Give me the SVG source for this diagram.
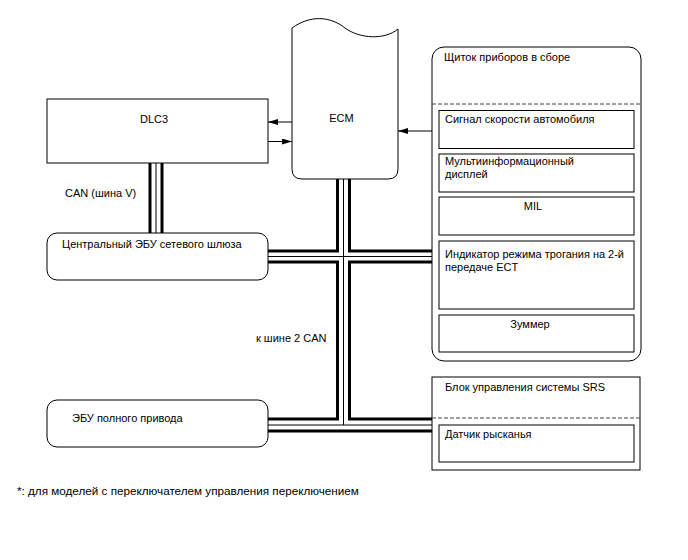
<svg xmlns="http://www.w3.org/2000/svg" width="688" height="560" viewBox="0 0 688 560">
<style>
  text { font-family: "Liberation Sans", Arial, sans-serif; font-size: 11px; fill: #000; }
  .note { font-size: 11.7px; }
  .box { fill: #fff; stroke: #000; stroke-width: 1; }
  .thick { fill: none; stroke: #000; stroke-width: 3; }
  .thin { fill: none; stroke: #000; stroke-width: 1; }
  .dash { fill: none; stroke: #444; stroke-width: 1; stroke-dasharray: 4 2; }
  .arrow { fill: none; stroke: #000; stroke-width: 1; marker-end: url(#ah); }
</style>
<defs>
  <marker id="ah" viewBox="0 0 10 6" refX="10" refY="3" markerWidth="10" markerHeight="6" markerUnits="userSpaceOnUse" orient="auto">
    <path d="M0,0 L10,3 L0,6 Z" fill="#000"/>
  </marker>
</defs>
<rect width="688" height="560" fill="#fff"/>

<g id="connectors">
  <!-- DLC3 to gateway: CAN V bus -->
  <line class="thick" x1="150" y1="163" x2="150" y2="233"/>
  <line class="thin" x1="156" y1="163" x2="156" y2="233"/>
  <line class="thick" x1="162" y1="163" x2="162" y2="233"/>
  <!-- main CAN bus -->
  <polyline class="thick" points="337.5,179 337.5,251 268,251"/>
  <polyline class="thick" points="349.5,179 349.5,251 432,251"/>
  <line class="thin" x1="343.5" y1="179" x2="343.5" y2="425"/>
  <line class="thin" x1="268" y1="256.5" x2="432" y2="256.5"/>
  <polyline class="thick" points="268,262 337.5,262 337.5,419 268,419"/>
  <polyline class="thick" points="432,262 349.5,262 349.5,419 432,419"/>
  <line class="thin" x1="268" y1="425" x2="432" y2="425"/>
  <line class="thick" x1="268" y1="431" x2="432" y2="431"/>
  <!-- arrows -->
  <line class="arrow" x1="292" y1="122" x2="268" y2="122"/>
  <line class="arrow" x1="268" y1="141.5" x2="292" y2="141.5"/>
  <line class="arrow" x1="439" y1="131" x2="398" y2="131"/>
</g>

<g id="dlc3">
  <rect class="box" x="47" y="99" width="221" height="64"/>
  <text x="154" y="123" text-anchor="middle">DLC3</text>
</g>

<g id="ecm">
  <path class="box" d="M292,28 C310,15 330,16 345,28 C360,39 385,40 398,29 L398,169 Q398,179 388,179 L302,179 Q292,179 292,169 Z"/>
  <text x="341.5" y="122" text-anchor="middle">ECM</text>
</g>

<g id="gateway">
  <rect class="box" x="47" y="233" width="221" height="47" rx="10" ry="10"/>
  <text x="62" y="248">Центральный ЭБУ сетевого шлюза</text>
</g>

<g id="ecu-4wd">
  <rect class="box" x="47" y="400" width="221" height="47" rx="10" ry="10"/>
  <text x="72" y="422">ЭБУ полного привода</text>
</g>

<g id="meter">
  <rect class="box" x="432" y="47" width="209" height="314" rx="12" ry="12"/>
  <text x="444" y="61">Щиток приборов в сборе</text>
  <line class="dash" x1="432" y1="104" x2="641" y2="104"/>
  <rect class="box" x="439" y="110.5" width="195" height="38"/>
  <text x="445" y="123">Сигнал скорости автомобиля</text>
  <rect class="box" x="439" y="154" width="195" height="38"/>
  <text x="445" y="165">Мультиинформационный</text>
  <text x="445" y="178">дисплей</text>
  <rect class="box" x="439" y="197" width="195" height="38"/>
  <text x="533" y="210" text-anchor="middle">MIL</text>
  <rect class="box" x="439" y="241" width="195" height="68"/>
  <text x="445" y="258" textLength="179" lengthAdjust="spacingAndGlyphs">Индикатор режима трогания на 2-й</text>
  <text x="445" y="271">передаче ECT</text>
  <rect class="box" x="439" y="315" width="195" height="37"/>
  <text x="530" y="328" text-anchor="middle">Зуммер</text>
</g>

<g id="srs">
  <rect class="box" x="432" y="377" width="208" height="93"/>
  <text x="445" y="391">Блок управления системы SRS</text>
  <line class="dash" x1="432" y1="418" x2="640" y2="418"/>
  <rect class="box" x="439" y="425" width="195" height="37"/>
  <text x="445" y="438">Датчик рысканья</text>
</g>

<g id="labels">
  <text x="65" y="197">CAN (шина V)</text>
  <text x="256" y="342">к шине 2 CAN</text>
  <text class="note" x="17" y="495">*: для моделей с переключателем управления переключением</text>
</g>
</svg>
